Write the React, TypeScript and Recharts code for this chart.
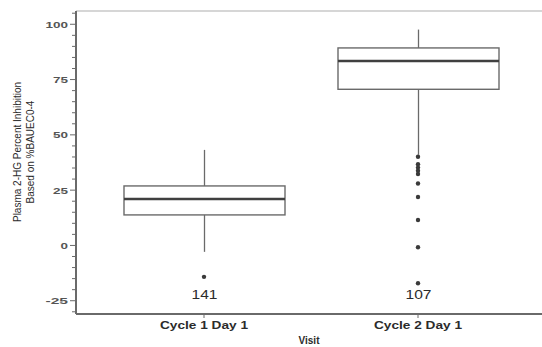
import { Bar, ComposedChart, ReferenceLine, Scatter, XAxis, YAxis } from "recharts";

// per-visit box statistics (% inhibition)
const visits = ["Cycle 1 Day 1", "Cycle 2 Day 1"];
const whiskerLow = [-2.9, 41];
const lowerQuartile = [13.8, 70.6];
const medians = [21, 83.4];
const upperQuartile = [26.9, 89.3];
const whiskerHigh = [43.2, 97.6];
const counts = [141, 107];

// points beyond the whiskers
const outlierVisits = [
  "Cycle 1 Day 1",
  "Cycle 2 Day 1",
  "Cycle 2 Day 1",
  "Cycle 2 Day 1",
  "Cycle 2 Day 1",
  "Cycle 2 Day 1",
  "Cycle 2 Day 1",
  "Cycle 2 Day 1",
  "Cycle 2 Day 1",
  "Cycle 2 Day 1",
  "Cycle 2 Day 1",
];
const outlierValues = [-14.2, 40.1, 36.7, 35.2, 33.8, 32.3, 28, 21.9, 11.5, -0.8, -17.1];

const yTicks = [-30, -25, -20, -15, -10, -5, 0, 5, 10, 15, 20, 25, 30, 35, 40, 45, 50, 55, 60, 65, 70, 75, 80, 85, 90, 95, 100, 105];
const yLabelled = [-25, 0, 25, 50, 75, 100];

const Y_MIN = -31;
const Y_MAX = 106;
const COUNT_AT = -22.4;

const boxes = visits.map((visit, i) => ({
  visit,
  lo: whiskerLow[i],
  q1: lowerQuartile[i],
  med: medians[i],
  q3: upperQuartile[i],
  hi: whiskerHigh[i],
  n: counts[i],
}));

const outliers = outlierValues.map((value, i) => ({ visit: outlierVisits[i], value }));

const TEXT = "#2b2b2b";
const LINE = "#6a6a6a";

function BoxShape(props: any) {
  const { x, y, width, height, payload } = props;
  const { lo, q1, med, q3, hi, n } = payload;
  // bar spans q1..q3, so use it to place the other stats on the same scale
  const k = height / (q3 - q1);
  const py = (v: number) => y + (q3 - v) * k;
  const cx = x + width / 2;
  return (
    <g>
      <line x1={cx} x2={cx} y1={py(hi)} y2={py(q3)} stroke={LINE} strokeWidth={1.3} />
      <line x1={cx} x2={cx} y1={py(q1)} y2={py(lo)} stroke={LINE} strokeWidth={1.3} />
      <rect x={x} y={py(q3)} width={width} height={py(q1) - py(q3)} fill="none" stroke={LINE} strokeWidth={1.4} />
      <line x1={x} x2={x + width} y1={py(med)} y2={py(med)} stroke="#404040" strokeWidth={2.4} />
      <text
        x={cx}
        y={py(COUNT_AT)}
        textAnchor="middle"
        dominantBaseline="central"
        fontSize={13}
        fill={TEXT}
        textLength={26}
        lengthAdjust="spacingAndGlyphs"
      >
        {n}
      </text>
    </g>
  );
}

function VisitTick({ x, y, payload }: any) {
  return (
    <text
      x={x}
      y={y + 9}
      textAnchor="middle"
      fontSize={10}
      fontWeight="bold"
      fill={TEXT}
      textLength={88}
      lengthAdjust="spacingAndGlyphs"
    >
      {payload.value}
    </text>
  );
}

function ValueTick({ x, y, payload }: any) {
  const major = yLabelled.includes(payload.value);
  const label = String(payload.value);
  return (
    <g>
      <line x1={x - (major ? 6 : 4)} x2={x} y1={y} y2={y} stroke={LINE} strokeWidth={1} />
      {major && (
        <text
          x={68}
          y={y}
          dy={3.5}
          textAnchor="end"
          fontSize={9}
          fontWeight="bold"
          fill="#555"
          textLength={label.length * 7.5}
          lengthAdjust="spacingAndGlyphs"
        >
          {label}
        </text>
      )}
    </g>
  );
}

function ValueAxisTitle() {
  return (
    <g fontSize={10} fill={TEXT} textAnchor="middle">
      <text transform="translate(21,152) rotate(-90)">Plasma 2-HG Percent Inhibition</text>
      <text transform="translate(34,152) rotate(-90)">Based on %BAUEC0-4</text>
    </g>
  );
}

export default function App() {
  return (
    <div style={{ position: "absolute", left: 0, top: 0, background: "#fff", fontFamily: "'Liberation Sans', Arial, sans-serif" }}>
      <ComposedChart width={542} height={347} data={boxes} margin={{ top: 11, right: 0, bottom: 0, left: 0 }}>
        <XAxis
          dataKey="visit"
          type="category"
          allowDuplicatedCategory={false}
          height={33}
          padding={{ left: 21, right: 17 }}
          axisLine={{ stroke: LINE, strokeWidth: 2 }}
          tickLine={{ stroke: LINE }}
          tickSize={4}
          tick={<VisitTick />}
          label={{ value: "Visit", position: "insideBottom", offset: 3, fontSize: 10, fontWeight: "bold", fill: TEXT }}
        />
        <YAxis
          type="number"
          domain={[Y_MIN, Y_MAX]}
          allowDataOverflow
          ticks={yTicks}
          interval={0}
          width={76}
          tickSize={0}
          tickMargin={0}
          tickLine={false}
          axisLine={{ stroke: LINE, strokeWidth: 2 }}
          tick={<ValueTick />}
          label={{ content: <ValueAxisTitle /> }}
        />
        <ReferenceLine y={Y_MAX} stroke="#c9c9c9" strokeWidth={1.5} />
        <Bar dataKey={(d: any) => [d.q1, d.q3]} barSize={161} shape={<BoxShape />} isAnimationActive={false} />
        <Scatter
          data={outliers}
          dataKey="value"
          shape={(p: any) => <circle cx={p.cx} cy={p.cy} r={2.2} fill="#3a3a3a" />}
          isAnimationActive={false}
        />
      </ComposedChart>
    </div>
  );
}
